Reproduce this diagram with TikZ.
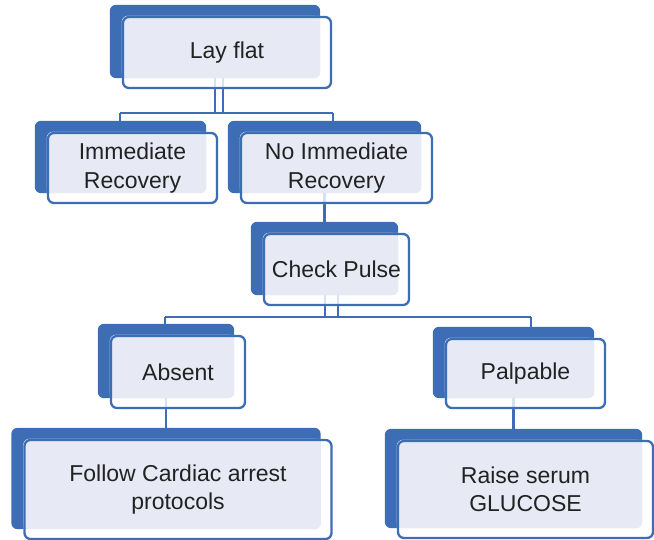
\documentclass[tikz,border=0pt]{standalone}
\usepackage{fontspec}
\setmainfont{Liberation Sans}
\definecolor{boxblue}{HTML}{3D6DB5}
\definecolor{boxlav}{HTML}{E7E9F5}
\definecolor{boxtext}{HTML}{222222}
\pgfdeclarelayer{background}
\pgfsetlayers{background,main}
\tikzset{every picture/.style={line width=2pt}}
\tikzset{
  stepbox/.style={draw=boxblue, line width=2.3pt, rounded corners=6pt, inner sep=0pt, align=center, text=boxtext, font=\fontsize{23}{28.5}\selectfont},
  link/.style={draw=boxblue, line width=2.8pt},
}

\begin{document}
\begin{tikzpicture}[x=1pt,y=1pt,yscale=-1]
	\useasboundingbox (0,0) rectangle (654,540);

	% Text Node
	\node[stepbox, minimum width=208pt, minimum height=71pt] (layflat) at (227,52.5) {Lay flat};
	% Text Node
	\node[stepbox, minimum width=169pt, minimum height=70pt] (immrec) at (132.5,168) {Immediate\\Recovery};
	% Text Node
	\node[stepbox, minimum width=191pt, minimum height=70pt] (noimm) at (336.5,168) {No Immediate\\Recovery};
	% Text Node
	\node[stepbox, minimum width=145pt, minimum height=71pt] (pulse) at (336.5,269.5) {Check Pulse};
	% Text Node
	\node[stepbox, minimum width=134pt, minimum height=72pt] (absent) at (178,372) {Absent};
	% Text Node
	\node[stepbox, minimum width=159pt, minimum height=69pt] (palpable) at (525.5,373.5) {Palpable};
	% Text Node
	\node[stepbox, minimum width=307pt, minimum height=99pt] (cardiac) at (178,489.5) {Follow Cardiac arrest\\protocols};
	% Text Node
	\node[stepbox, minimum width=255pt, minimum height=97pt] (glucose) at (525.5,489.5) {Raise serum\\GLUCOSE};

	\begin{pgfonlayer}{background}
		% Connectors
		\coordinate (split1w) at (120,113);
		\coordinate (split1e) at (333,113);
		\coordinate (drop1) at ([shift={(-12,-11)}]layflat.south);
		\coordinate (drop2) at ([shift={(-4,-11)}]layflat.south);
		\draw[link] (split1w) -- (split1e);
		\draw[link] (drop1) -- (drop1 |- split1w);
		\draw[link] (drop2) -- (drop2 |- split1w);
		\draw[link] (split1w) -- (split1w |- immrec.north);
		\draw[link] (split1e) -- (split1e |- noimm.north);
		\coordinate (drop3) at ([shift={(-12,-11)}]noimm.south);
		\draw[link] (drop3) -- (drop3 |- pulse.north);
		\coordinate (split2w) at (165,317);
		\coordinate (split2e) at (531,317);
		\coordinate (drop4) at ([shift={(-11.5,-11)}]pulse.south);
		\coordinate (drop5) at ([shift={(1.5,-11)}]pulse.south);
		\draw[link] (split2w) -- (split2e);
		\draw[link] (drop4) -- (drop4 |- split2w);
		\draw[link] (drop5) -- (drop5 |- split2w);
		\draw[link] (split2w) -- (split2w |- absent.north);
		\draw[link] (split2e) -- (split2e |- palpable.north);
		\coordinate (drop6) at ([shift={(-12,-11)}]absent.south);
		\draw[link] (drop6) -- (drop6 |- cardiac.north);
		\coordinate (drop7) at ([shift={(-12,-11)}]palpable.south);
		\draw[link] (drop7) -- (drop7 |- glucose.north);

		% Shape: back tab, frame fill, lavender face
		\foreach \n in {layflat,immrec,noimm,pulse,absent,palpable,cardiac,glucose}{
			\fill[boxblue, rounded corners=6pt] ([shift={(-12,-11)}]\n.north west) rectangle ([shift={(-12,-11)}]\n.south east);
			\fill[white, fill opacity=0.8, rounded corners=6pt] (\n.north west) rectangle (\n.south east);
			\fill[boxlav, rounded corners=6pt] (\n.north west) rectangle ([shift={(-12,-11)}]\n.south east);
		}
	\end{pgfonlayer}
\end{tikzpicture}
\end{document}
